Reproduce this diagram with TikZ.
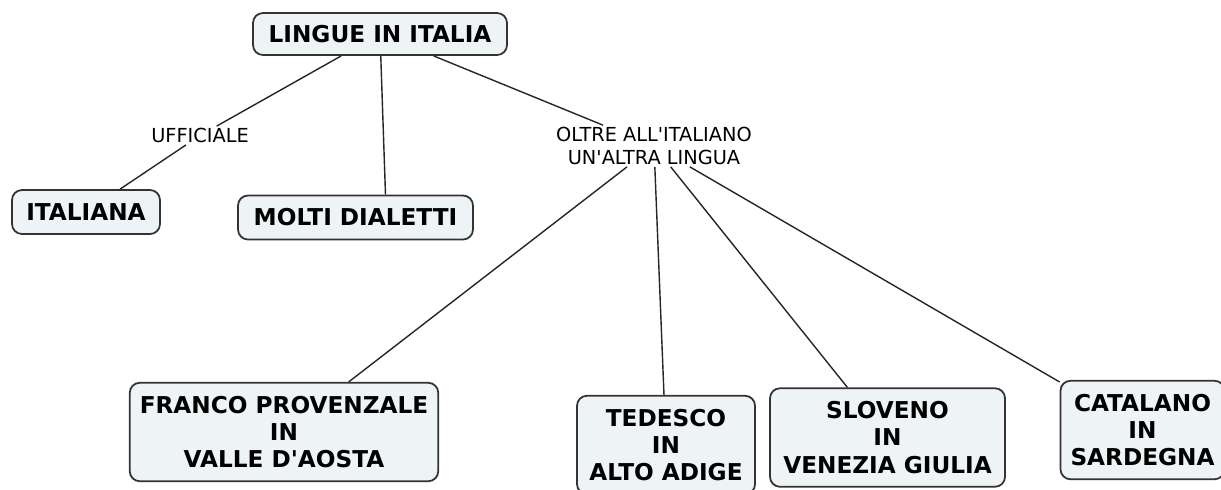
\documentclass[tikz,border=0pt]{standalone}
\usepackage{fontspec}
\setmainfont{DejaVu Sans}[Ligatures=TeXOff]
\definecolor{boxfill}{HTML}{EEF3F6}
\begin{document}
\begin{tikzpicture}[
  bubble/.style={draw=black!80, line width=1pt, fill=boxfill, rounded corners=0.2cm,
    align=center, inner xsep=0.2cm, minimum height=0.88cm,
    font=\bfseries\fontsize{13.2}{15.6}\selectfont},
  tallbubble/.style={bubble, minimum height=1.97cm},
  linklabel/.style={align=center, inner sep=1pt, font=\fontsize{11}{13}\selectfont},
  link/.style={line width=0.8pt, black!85}
]
\useasboundingbox (0,0) rectangle (24.42,-9.78);
% top
\node[bubble, minimum width=5.08cm, minimum height=0.84cm] (root) at (7.6,-0.68) {LINGUE IN ITALIA};
% labels
\node[linklabel] (uff) at (4.0,-2.71) {UFFICIALE};
\node[linklabel] (oltre) at (13.08,-2.92) {OLTRE ALL'ITALIANO\\UN'ALTRA LINGUA};
% first row
\node[bubble, minimum width=2.96cm] (ital) at (1.72,-4.24) {ITALIANA};
\node[bubble, minimum width=4.7cm] (molti) at (7.11,-4.35) {MOLTI DIALETTI};
% bottom row
\node[tallbubble, minimum width=5.96cm] (franco) at (5.68,-8.64) {FRANCO PROVENZALE\\IN\\VALLE D'AOSTA};
\node[tallbubble, minimum width=3.56cm] (tedesco) at (13.32,-8.9) {TEDESCO\\IN\\ALTO ADIGE};
\node[tallbubble, minimum width=4.7cm] (sloveno) at (17.75,-8.75) {SLOVENO\\IN\\VENEZIA GIULIA};
\node[tallbubble, minimum width=3.1cm] (catalano) at (22.85,-8.6) {CATALANO\\IN\\SARDEGNA};
% links
\draw[link] (root) -- (uff);
\draw[link] (uff) -- (ital);
\draw[link] (root) -- ([xshift=0.6cm]molti.north);
\draw[link] (root) -- (oltre);
\foreach \t in {franco,tedesco,sloveno,catalano}
  \draw[link] (oltre) -- (\t);
\end{tikzpicture}
\end{document}
